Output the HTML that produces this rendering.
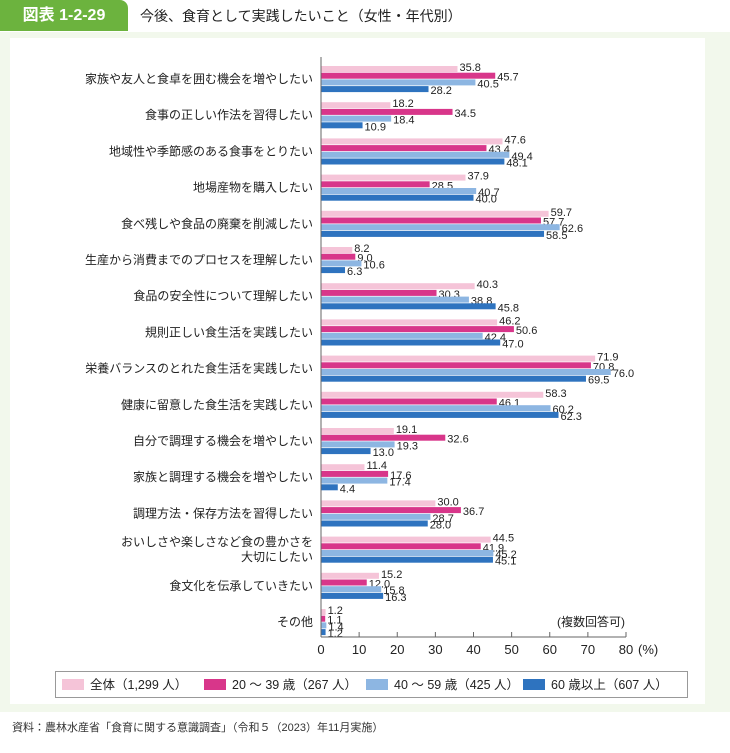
<!DOCTYPE html>
<html><head><meta charset="utf-8"><style>
body{margin:0;width:730px;height:753px;background:#fff;font-family:"Liberation Sans","Noto Sans CJK JP",sans-serif;position:relative;overflow:hidden}
.panel{position:absolute;left:0;top:32px;width:730px;height:680px;background:#f2f8ec}
.inner{position:absolute;left:10px;top:38px;width:695px;height:666px;background:#fff}
.tab{position:absolute;left:0;top:0;width:128px;height:31px;background:#6cb33e;border-radius:0 8px 0 0;color:#fff;font-weight:bold;font-size:16px;line-height:31px;text-align:center}
.title{position:absolute;left:140px;top:6px;font-size:14px;color:#222}
.foot{position:absolute;left:12px;top:719px;font-size:11px;color:#333}
</style></head><body>
<div class="panel"></div>
<div class="inner"></div>
<div class="tab">図表 1-2-29</div>
<div class="title">今後、食育として実践したいこと（女性・年代別）</div>
<svg id="chart" width="730" height="753" style="position:absolute;left:0;top:0"></svg>
<div class="foot">資料：農林水産省「食育に関する意識調査」（令和５（2023）年11月実施）</div>
<script>
const categories=["家族や友人と食卓を囲む機会を増やしたい","食事の正しい作法を習得したい","地域性や季節感のある食事をとりたい","地場産物を購入したい","食べ残しや食品の廃棄を削減したい","生産から消費までのプロセスを理解したい","食品の安全性について理解したい","規則正しい食生活を実践したい","栄養バランスのとれた食生活を実践したい","健康に留意した食生活を実践したい","自分で調理する機会を増やしたい","家族と調理する機会を増やしたい","調理方法・保存方法を習得したい","おいしさや楽しさなど食の豊かさを|大切にしたい","食文化を伝承していきたい","その他"];
const seriesAll=[35.8,18.2,47.6,37.9,59.7,8.2,40.3,46.2,71.9,58.3,19.1,11.4,30.0,44.5,15.2,1.2];
const series20=[45.7,34.5,43.4,28.5,57.7,9.0,30.3,50.6,70.8,46.1,32.6,17.6,36.7,41.9,12.0,1.1];
const series40=[40.5,18.4,49.4,40.7,62.6,10.6,38.8,42.4,76.0,60.2,19.3,17.4,28.7,45.2,15.8,1.4];
const series60=[28.2,10.9,48.1,40.0,58.5,6.3,45.8,47.0,69.5,62.3,13.0,4.4,28.0,45.1,16.3,1.2];
const seriesNames=["全体（1,299 人）","20 ～ 39 歳（267 人）","40 ～ 59 歳（425 人）","60 歳以上（607 人）"];
const colors=["#f5c4d8","#d8368a","#8db6e2","#2e73bf"];
const ticks=[0,10,20,30,40,50,60,70,80];
const svg=document.getElementById('chart');const NS="http://www.w3.org/2000/svg";
const x0=321,x1=626,maxV=80;const X=v=>x0+(x1-x0)*v/maxV;
const g0=66,gp=36.2,bh=6,bs=6.7;
function el(t,a,txt){const e=document.createElementNS(NS,t);for(const k in a)e.setAttribute(k,a[k]);if(txt!=null)e.textContent=txt;svg.appendChild(e);return e;}
const all=[seriesAll,series20,series40,series60];
categories.forEach((c,i)=>{
 const gy=g0+gp*i;
 const lines=c.split('|');
 lines.forEach((ln,j)=>{const t=el('text',{x:313,y:gy+17+(j-(lines.length-1)/2)*15,'text-anchor':'end','font-size':12,fill:'#222'},ln);
 });
 all.forEach((s,k)=>{
  const y=gy+k*bs;
  const r=el('rect',{x:x0,y:y,width:X(s[i])-x0,height:bh,fill:colors[k]});
  
  const t=el('text',{x:X(s[i])+2,y:y+bh+(k===0?-1:2),'font-size':11,fill:'#222'},s[i].toFixed(1));
  
 });
});
const ay=637;
const ax=el('line',{x1:x0,y1:57,x2:x0,y2:ay,stroke:'#666','stroke-width':1});
const bx=el('line',{x1:x0,y1:ay,x2:x1,y2:ay,stroke:'#666','stroke-width':1});
ticks.forEach(v=>{const l=el('line',{x1:X(v),y1:ay,x2:X(v),y2:ay-5,stroke:'#666'});
 const t=el('text',{x:X(v),y:ay+17,'text-anchor':'middle','font-size':13,fill:'#222'},String(v));});
const pu=el('text',{x:X(80)+12,y:ay+17,'font-size':13,fill:'#222'},'(%)');
const mn=el('text',{x:625,y:626,'text-anchor':'end','font-size':12,fill:'#222'},'(複数回答可)');
const lb=el('rect',{x:55.5,y:671.5,width:632,height:26,fill:'#fff',stroke:'#999'});
const lx=[62,204,366,523];
seriesNames.forEach((n,k)=>{const r=el('rect',{x:lx[k],y:679,width:22,height:11,fill:colors[k]});
 const t=el('text',{x:lx[k]+28,y:689,'font-size':12.5,fill:'#222'},n);});
</script>
</body></html>
